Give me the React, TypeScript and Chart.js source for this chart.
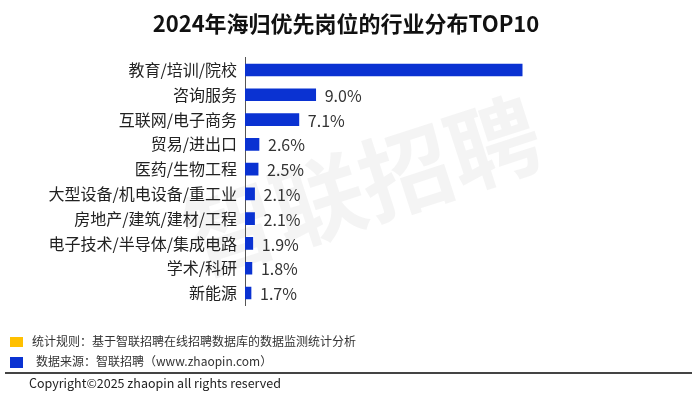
import React, { useEffect, useRef } from "react";
import { Chart, registerables } from "chart.js";

Chart.register(...registerables);

const categories = [
  "教育/培训/院校",
  "咨询服务",
  "互联网/电子商务",
  "贸易/进出口",
  "医药/生物工程",
  "大型设备/机电设备/重工业",
  "房地产/建筑/建材/工程",
  "电子技术/半导体/集成电路",
  "学术/科研",
  "新能源",
];
const values = [32.3, 9.0, 7.1, 2.6, 2.5, 2.1, 2.1, 1.9, 1.8, 1.7];
const valueLabels = ["", "9.0%", "7.1%", "2.6%", "2.5%", "2.1%", "2.1%", "1.9%", "1.8%", "1.7%"];

const FONT = "'Noto Sans CJK SC', 'Noto Sans', sans-serif";
const BLUE = "#0a32d2";
const YELLOW = "#ffc000";

const watermarkPlugin = {
  id: "watermark",
  beforeDraw(chart: any) {
    const ctx = chart.ctx;
    ctx.save();
    ctx.translate(362, 186);
    ctx.rotate((-18 * Math.PI) / 180);
    ctx.font = `bold 92px ${FONT}`;
    ctx.fillStyle = "rgba(0,0,0,0.045)";
    ctx.textAlign = "center";
    ctx.textBaseline = "middle";
    ctx.fillText("智联招聘", 0, 0);
    ctx.restore();
  },
};

const labelPlugin = {
  id: "barLabels",
  afterDatasetsDraw(chart: any) {
    const ctx = chart.ctx;
    const meta = chart.getDatasetMeta(0);
    ctx.save();
    ctx.font = `16px ${FONT}`;
    ctx.fillStyle = "#333";
    ctx.textAlign = "left";
    ctx.textBaseline = "middle";
    meta.data.forEach((bar: any, i: number) => {
      const t = valueLabels[i];
      if (t) ctx.fillText(t, bar.x + 9, bar.y + 1);
    });
    ctx.restore();
  },
};

export default function App() {
  const ref = useRef<HTMLCanvasElement>(null);
  useEffect(() => {
    if (!ref.current) return;
    const chart = new Chart(ref.current, {
      type: "bar",
      data: {
        labels: categories,
        datasets: [
          {
            data: values,
            backgroundColor: BLUE,
            barThickness: 12,
            base: 1.02,
          },
        ],
      },
      options: {
        indexAxis: "y",
        animation: false,
        responsive: false,
        layout: { padding: { top: 57.6, bottom: 89.6, right: 13, left: 0 } },
        plugins: {
          legend: { display: false },
          tooltip: { enabled: false },
          title: { display: false },
        },
        scales: {
          x: { display: false, min: 1.02, max: 50 },
          y: {
            grid: { display: false, drawTicks: false },
            border: { display: true, color: "#555", width: 1 },
            ticks: {
              color: "#222",
              padding: 8,
              font: { size: 16, family: FONT },
            },
            afterFit(s: any) {
              s.width = 245;
            },
          },
        },
      } as any,
      plugins: [watermarkPlugin, labelPlugin],
    });
    return () => chart.destroy();
  }, []);

  const note: React.CSSProperties = {
    position: "absolute",
    fontFamily: FONT,
    fontSize: 12,
    color: "#333",
    whiteSpace: "nowrap",
    lineHeight: "14px",
  };

  return (
    <div style={{ position: "fixed", left: 0, top: 0, width: 692, height: 395, background: "#fff", overflow: "hidden" }}>
      <canvas ref={ref} width={692} height={395} style={{ position: "absolute", left: 0, top: 0, width: 692, height: 395 }} />
      <div
        style={{
          position: "absolute",
          left: 0,
          top: 7,
          width: 692,
          textAlign: "center",
          fontFamily: FONT,
          fontWeight: 700,
          fontSize: 22,
          lineHeight: "30px",
          color: "#111",
        }}
      >
        2024年海归优先岗位的行业分布TOP10
      </div>
      <div style={{ position: "absolute", left: 10, top: 337, width: 13, height: 10, background: YELLOW }} />
      <div style={{ ...note, left: 32, top: 334 }}>统计规则：基于智联招聘在线招聘数据库的数据监测统计分析</div>
      <div style={{ position: "absolute", left: 10, top: 357, width: 13, height: 11, background: BLUE }} />
      <div style={{ ...note, left: 36, top: 354 }}>数据来源：智联招聘（www.zhaopin.com）</div>
      <div style={{ position: "absolute", left: 5, top: 372, width: 687, height: 2, background: "#444" }} />
      <div style={{ ...note, left: 29, top: 375, fontSize: 12.5, lineHeight: "15px", color: "#222" }}>
        Copyright©2025 zhaopin all rights reserved
      </div>
    </div>
  );
}
